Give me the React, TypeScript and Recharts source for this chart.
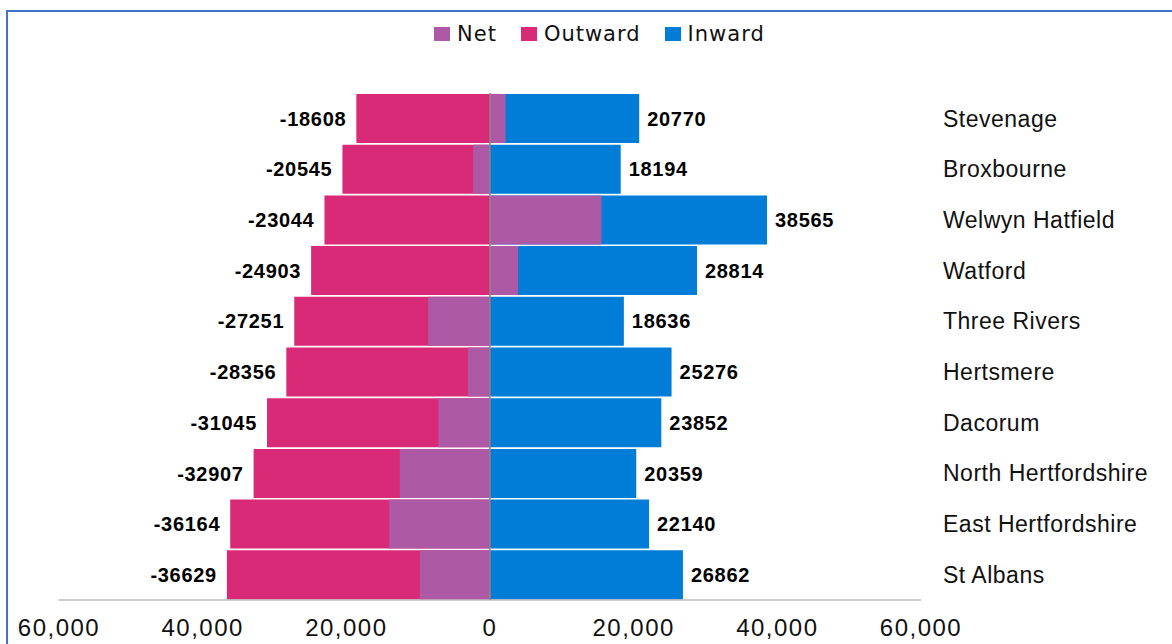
import React from 'react'
import { BarChart, Bar, XAxis, YAxis, ReferenceLine, LabelList } from 'recharts'

// district names, top to bottom
const districts = [
  'Stevenage',
  'Broxbourne',
  'Welwyn Hatfield',
  'Watford',
  'Three Rivers',
  'Hertsmere',
  'Dacorum',
  'North Hertfordshire',
  'East Hertfordshire',
  'St Albans',
]

const outward = [-18608, -20545, -23044, -24903, -27251, -28356, -31045, -32907, -36164, -36629]
const inward = [20770, 18194, 38565, 28814, 18636, 25276, 23852, 20359, 22140, 26862]
const net = [2162, -2351, 15521, 3911, -8615, -3080, -7193, -12548, -14024, -9767]

const xTicks = [-60000, -40000, -20000, 0, 20000, 40000, 60000]

const seriesNames = ['Net', 'Outward', 'Inward']
const seriesColors = ['#AE59A6', '#D92A78', '#017CD7']

const data = districts.map((name, i) => ({
  name,
  Outward: outward[i],
  Inward: inward[i],
  Net: net[i],
}))

const BAR = 49

function LegendRow() {
  return (
    <div
      style={{
        position: 'absolute',
        left: 434,
        top: 22,
        display: 'flex',
        alignItems: 'center',
        fontFamily: '"DejaVu Sans", sans-serif',
        fontSize: 21,
        letterSpacing: 1,
        color: '#111',
      }}
    >
      {seriesNames.map((n, i) => (
        <div key={n} style={{ display: 'flex', alignItems: 'center', marginRight: i < 2 ? 24 : 0 }}>
          <span style={{ width: 16, height: 14, background: seriesColors[i], marginRight: 7, display: 'inline-block' }} />
          <span>{n}</span>
        </div>
      ))}
    </div>
  )
}

const valueStyle = {
  fill: '#000',
  fontSize: 20,
  fontWeight: 700,
  fontFamily: '"Liberation Sans", Arial',
  letterSpacing: 0.7,
}

export default function App() {
  return (
    <div style={{ position: 'absolute', left: 0, top: 0, width: 1172, height: 644, background: '#fff', overflow: 'hidden' }}>
      <div
        style={{
          position: 'absolute',
          left: 6,
          top: 10,
          width: 1200,
          height: 700,
          borderTop: '2px solid #4472C4',
          borderLeft: '2px solid #4472C4',
        }}
      />
      <LegendRow />
      <div style={{ position: 'absolute', left: 0, top: 0 }}>
        <BarChart
          width={1172}
          height={644}
          data={data}
          layout="vertical"
          barGap={-BAR}
          margin={{ top: 93, right: 0, bottom: 0, left: 59 }}
        >
          <XAxis
            type="number"
            domain={[-60000, 60000]}
            ticks={xTicks}
            height={44}
            axisLine={{ stroke: '#999' }}
            tickLine={false}
            tickSize={6}
            tickMargin={13}
            tick={{ fill: '#111', fontSize: 24, fontFamily: '"Liberation Sans", Arial', letterSpacing: 1.5 }}
            tickFormatter={(v: number) => Math.abs(v).toLocaleString('en-US')}
          />
          <YAxis
            type="category"
            dataKey="name"
            orientation="right"
            width={251}
            axisLine={false}
            tickLine={false}
            tickSize={6}
            tickMargin={16}
            interval={0}
            tick={{ fill: '#111', fontSize: 23, fontFamily: '"Liberation Sans", Arial', letterSpacing: 0.5, textAnchor: 'start' }}
          />
          <Bar dataKey="Outward" fill={seriesColors[1]} barSize={BAR} isAnimationActive={false}>
            {/* negative bars: "right" is the far end of the bar */}
            <LabelList dataKey="Outward" position="right" offset={10} style={valueStyle} />
          </Bar>
          <Bar dataKey="Inward" fill={seriesColors[2]} barSize={BAR} isAnimationActive={false}>
            <LabelList dataKey="Inward" position="right" offset={8} style={valueStyle} />
          </Bar>
          <Bar dataKey="Net" fill={seriesColors[0]} barSize={BAR} isAnimationActive={false} />
          <ReferenceLine x={0} stroke="#888" strokeWidth={1.5} />
        </BarChart>
      </div>
    </div>
  )
}
